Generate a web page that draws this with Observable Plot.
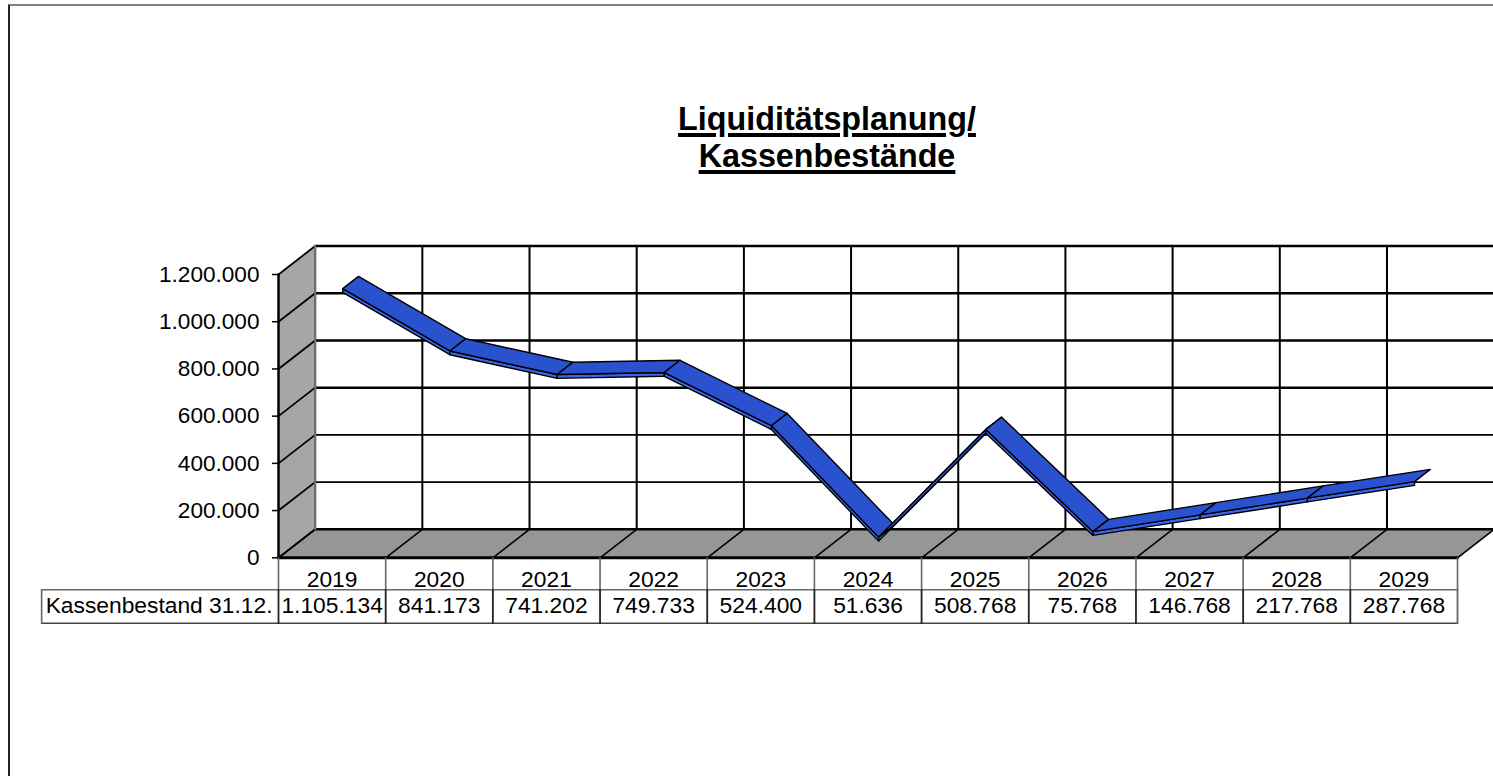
<!DOCTYPE html>
<html lang="de">
<head>
<meta charset="utf-8">
<script src="https://cdn.jsdelivr.net/npm/d3@7"></script>
<script src="https://cdn.jsdelivr.net/npm/@observablehq/plot@0.6"></script>
<style>
html,body{margin:0;padding:0;background:#fff;overflow:hidden;width:1493px;height:776px;}
#frame{position:absolute;left:8px;top:4px;width:1500px;height:800px;border-top:2px solid #808080;border-left:2px solid #222;}
#title{position:absolute;left:527px;top:101px;width:600px;text-align:center;font:bold 32.3px/36.7px "Liberation Sans",Arial,sans-serif;color:#000;text-decoration:underline;text-decoration-thickness:3.5px;text-underline-offset:3px;z-index:2;}
#chart{position:absolute;left:0;top:0;}
#chart svg{display:block;}
</style>
</head>
<body>
<div id="frame"></div>
<div id="title">Liquiditätsplanung/<br>Kassenbestände</div>
<div id="chart"></div>
<script>
const years = [2019,2020,2021,2022,2023,2024,2025,2026,2027,2028,2029];
const values = [1105134,841173,741202,749733,524400,51636,508768,75768,146768,217768,287768];
const valueLabels = ["1.105.134","841.173","741.202","749.733","524.400","51.636","508.768","75.768","146.768","217.768","287.768"];
const rowLabel = "Kassenbestand 31.12.";
const yTicks = [0,200000,400000,600000,800000,1000000,1200000];
const yMax = 1200000;

const depthX = 0.342, depthY = 120700;
const ribbonNear = 0.29, ribbonFar = 0.72, ribbonThick = 16000;
const rowLine1 = -135500, rowLine2 = -277000, rowText2 = -204500;
const headerLeft = -2.21;
const n = years.length;

const P = (i, v, d = 0) => ({x: i + d * depthX, y: v + d * depthY});
const poly = (pts, fill, stroke = "#000", strokeWidth = 2) =>
  Plot.line(pts, {x: "x", y: "y", fill, stroke, strokeWidth, curve: "linear-closed"});
const seg = (pts, stroke = "#000", strokeWidth = 2) =>
  Plot.line(pts, {x: "x", y: "y", stroke, strokeWidth});

const marks = [];
// side wall and floor
marks.push(poly([P(0,0),P(0,0,1),P(0,yMax,1),P(0,yMax)], "#a6a6a6", "none"));
marks.push(poly([P(0,0),P(n,0),P(n,0,1),P(0,0,1)], "#969696", "none"));
// back wall grid
for (const t of yTicks) {
  marks.push(seg([P(0,t),P(0,t,1)], "#000", 1.8));
  marks.push(seg([P(0,t,1),P(n,t,1)], "#000", t >= 600000 || t === 0 ? 2.5 : 1.6));
}
for (let k = 0; k <= n; k++) {
  marks.push(seg([P(k,0),P(k,0,1)], "#000", 1.6));
  if (k < n) marks.push(seg([P(k,0,1),P(k,yMax,1)], "#000", 2));
}
marks.push(seg([P(0,0,1),P(0,yMax,1)], "#777", 2));
marks.push(seg([P(0,0),P(0,yMax)], "#000", 2.5));
// ribbon
for (let i = 0; i < n - 1; i++) {
  const a = i + 0.5, b = i + 1.5, va = values[i], vb = values[i + 1];
  marks.push(poly([P(a,va,ribbonNear),P(b,vb,ribbonNear),P(b,vb-ribbonThick,ribbonNear),P(a,va-ribbonThick,ribbonNear)], "#3a66ee", "#000", 1.4));
  marks.push(poly([P(a,va,ribbonNear),P(b,vb,ribbonNear),P(b,vb,ribbonFar),P(a,va,ribbonFar)], "#2a52cf", "#000", 1.4));
}
// table lines
marks.push(seg([P(0,0),P(n,0)], "#000", 3));
marks.push(seg([P(headerLeft,rowLine1),P(n,rowLine1)], "#666", 1.6));
marks.push(seg([P(headerLeft,rowLine2),P(n,rowLine2)], "#444", 1.6));
marks.push(seg([P(headerLeft,rowLine1),P(headerLeft,rowLine2)], "#666", 1.6));
for (let k = 0; k <= n; k++) {
  marks.push(seg([P(k,0),P(k,rowLine1)], "#666", 1.6));
  marks.push(seg([P(k,rowLine1),P(k,rowLine2)], k === n ? "#666" : "#222", 1.8));
}
// table text
const cells = years.map((yr, i) => ({i: i + 0.5, label: valueLabels[i]}));
marks.push(Plot.text(cells, {x: "i", y: () => rowText2, text: "label", fontSize: 22.8, fill: "#000"}));
marks.push(Plot.text([rowLabel], {x: () => headerLeft, y: () => rowText2, text: d => d, textAnchor: "start", dx: 4, fontSize: 22.8, fill: "#000"}));
// axes
marks.push(Plot.axisY({ticks: yTicks, tickSize: 6, tickPadding: 13, fontSize: 22.6, stroke: "#000", strokeWidth: 1.5, label: null,
  tickFormat: d => d3.format(",")(d).replace(/,/g, ".")}));
marks.push(Plot.axisX({anchor: "bottom", ticks: years.map((y, i) => i + 0.5), tickSize: 0, tickPadding: 13, fontSize: 22.8, label: null,
  tickFormat: d => String(years[d - 0.5])}));

const chart = Plot.plot({
  width: 1493, height: 776,
  marginLeft: 278, marginRight: 36, marginTop: 274, marginBottom: 218.7,
  style: {fontFamily: '"Liberation Sans", Arial, sans-serif', background: "transparent", color: "#000", overflow: "hidden"},
  x: {type: "linear", domain: [0, n]},
  y: {type: "linear", domain: [0, yMax]},
  marks
});
document.getElementById("chart").append(chart);
</script>
</body>
</html>
